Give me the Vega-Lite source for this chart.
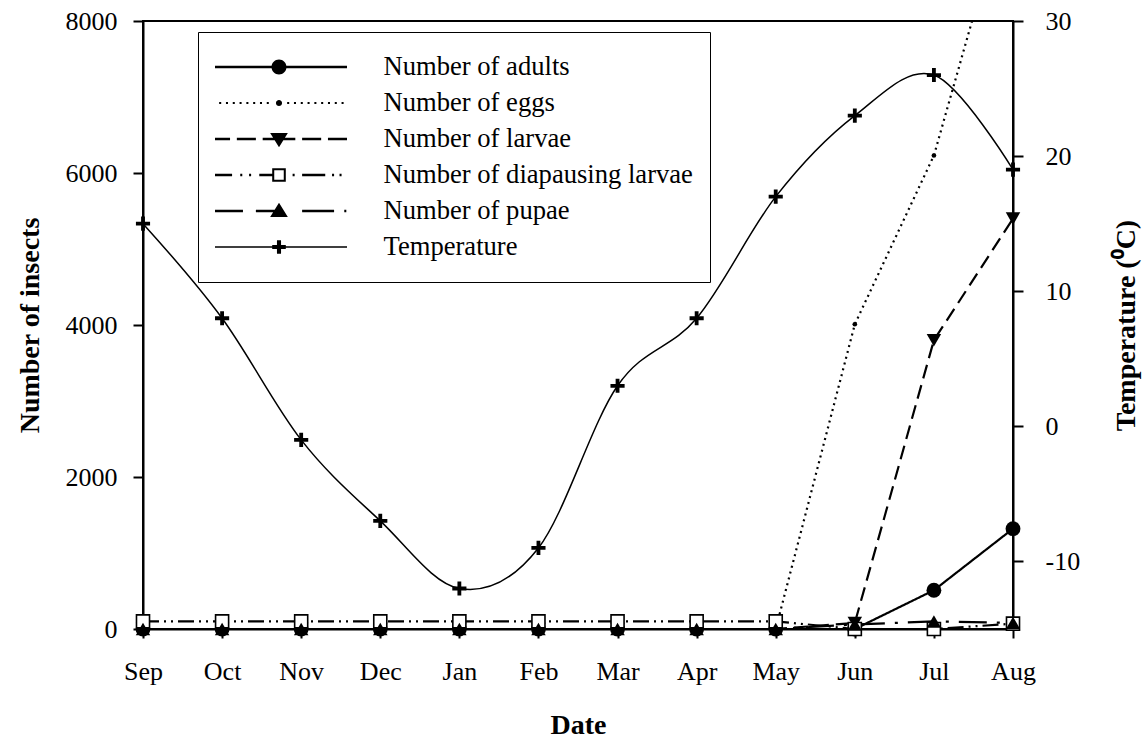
{
  "$schema": "https://vega.github.io/schema/vega-lite/v6.json",
  "width": 870,
  "height": 608,
  "autosize": {"type": "none"},
  "padding": {"left": 143, "top": 21, "right": 133, "bottom": 109},
  "background": "white",
  "config": {
    "font": "Liberation Serif",
    "view": {"stroke": "black", "strokeWidth": 2},
    "axis": {
      "grid": false,
      "domainColor": "black",
      "domainWidth": 2,
      "tickColor": "black",
      "tickWidth": 2,
      "labelColor": "black",
      "titleColor": "black",
      "labelFont": "Liberation Serif",
      "titleFont": "Liberation Serif",
      "labelFontSize": 26,
      "titleFontSize": 28,
      "titleFontWeight": "bold"
    }
  },
  "datasets": {
    "insects": [
      {"month": "Sep", "series": "Number of adults", "count": 0},
      {"month": "Oct", "series": "Number of adults", "count": 0},
      {"month": "Nov", "series": "Number of adults", "count": 0},
      {"month": "Dec", "series": "Number of adults", "count": 0},
      {"month": "Jan", "series": "Number of adults", "count": 0},
      {"month": "Feb", "series": "Number of adults", "count": 0},
      {"month": "Mar", "series": "Number of adults", "count": 0},
      {"month": "Apr", "series": "Number of adults", "count": 0},
      {"month": "May", "series": "Number of adults", "count": 0},
      {"month": "Jun", "series": "Number of adults", "count": 0},
      {"month": "Jul", "series": "Number of adults", "count": 510},
      {"month": "Aug", "series": "Number of adults", "count": 1320},
      {"month": "Sep", "series": "Number of eggs", "count": 0},
      {"month": "Oct", "series": "Number of eggs", "count": 0},
      {"month": "Nov", "series": "Number of eggs", "count": 0},
      {"month": "Dec", "series": "Number of eggs", "count": 0},
      {"month": "Jan", "series": "Number of eggs", "count": 0},
      {"month": "Feb", "series": "Number of eggs", "count": 0},
      {"month": "Mar", "series": "Number of eggs", "count": 0},
      {"month": "Apr", "series": "Number of eggs", "count": 0},
      {"month": "May", "series": "Number of eggs", "count": 0},
      {"month": "Jun", "series": "Number of eggs", "count": 4010},
      {"month": "Jul", "series": "Number of eggs", "count": 6230},
      {"month": "Aug", "series": "Number of eggs", "count": 9900},
      {"month": "Sep", "series": "Number of larvae", "count": 0},
      {"month": "Oct", "series": "Number of larvae", "count": 0},
      {"month": "Nov", "series": "Number of larvae", "count": 0},
      {"month": "Dec", "series": "Number of larvae", "count": 0},
      {"month": "Jan", "series": "Number of larvae", "count": 0},
      {"month": "Feb", "series": "Number of larvae", "count": 0},
      {"month": "Mar", "series": "Number of larvae", "count": 0},
      {"month": "Apr", "series": "Number of larvae", "count": 0},
      {"month": "May", "series": "Number of larvae", "count": 0},
      {"month": "Jun", "series": "Number of larvae", "count": 80},
      {"month": "Jul", "series": "Number of larvae", "count": 3800},
      {"month": "Aug", "series": "Number of larvae", "count": 5400},
      {"month": "Sep", "series": "Number of diapausing larvae", "count": 100},
      {"month": "Oct", "series": "Number of diapausing larvae", "count": 100},
      {"month": "Nov", "series": "Number of diapausing larvae", "count": 100},
      {"month": "Dec", "series": "Number of diapausing larvae", "count": 100},
      {"month": "Jan", "series": "Number of diapausing larvae", "count": 100},
      {"month": "Feb", "series": "Number of diapausing larvae", "count": 100},
      {"month": "Mar", "series": "Number of diapausing larvae", "count": 100},
      {"month": "Apr", "series": "Number of diapausing larvae", "count": 100},
      {"month": "May", "series": "Number of diapausing larvae", "count": 100},
      {"month": "Jun", "series": "Number of diapausing larvae", "count": 0},
      {"month": "Jul", "series": "Number of diapausing larvae", "count": 0},
      {"month": "Aug", "series": "Number of diapausing larvae", "count": 70},
      {"month": "Sep", "series": "Number of pupae", "count": 0},
      {"month": "Oct", "series": "Number of pupae", "count": 0},
      {"month": "Nov", "series": "Number of pupae", "count": 0},
      {"month": "Dec", "series": "Number of pupae", "count": 0},
      {"month": "Jan", "series": "Number of pupae", "count": 0},
      {"month": "Feb", "series": "Number of pupae", "count": 0},
      {"month": "Mar", "series": "Number of pupae", "count": 0},
      {"month": "Apr", "series": "Number of pupae", "count": 0},
      {"month": "May", "series": "Number of pupae", "count": 0},
      {"month": "Jun", "series": "Number of pupae", "count": 60},
      {"month": "Jul", "series": "Number of pupae", "count": 100},
      {"month": "Aug", "series": "Number of pupae", "count": 80}
    ],
    "temperature": [
      {"month": "Sep", "series": "Temperature", "temp": 15},
      {"month": "Oct", "series": "Temperature", "temp": 8},
      {"month": "Nov", "series": "Temperature", "temp": -1},
      {"month": "Dec", "series": "Temperature", "temp": -7},
      {"month": "Jan", "series": "Temperature", "temp": -12},
      {"month": "Feb", "series": "Temperature", "temp": -9},
      {"month": "Mar", "series": "Temperature", "temp": 3},
      {"month": "Apr", "series": "Temperature", "temp": 8},
      {"month": "May", "series": "Temperature", "temp": 17},
      {"month": "Jun", "series": "Temperature", "temp": 23},
      {"month": "Jul", "series": "Temperature", "temp": 26},
      {"month": "Aug", "series": "Temperature", "temp": 19}
    ]
  },
  "encoding": {
    "x": {
      "field": "month",
      "type": "ordinal",
      "sort": ["Sep", "Oct", "Nov", "Dec", "Jan", "Feb", "Mar", "Apr", "May", "Jun", "Jul", "Aug"],
      "scale": {"type": "point", "padding": 0},
      "axis": {
        "title": "Date",
        "labelAngle": 0,
        "tickSize": 9,
        "labelPadding": 20,
        "titleY": 104,
        "titleBaseline": "alphabetic"
      }
    }
  },
  "layer": [
    {
      "data": {"name": "insects"},
      "encoding": {
        "y": {
          "field": "count",
          "type": "quantitative",
          "scale": {"domain": [0, 8000], "nice": false, "zero": false},
          "axis": {
            "orient": "left",
            "values": [0, 2000, 4000, 6000, 8000],
            "format": "d",
            "tickSize": 10,
            "labelPadding": 16,
            "title": "Number of insects",
            "titleAngle": 270,
            "titleAlign": "center",
            "titleBaseline": "bottom",
            "titleX": -99,
            "titleY": 304
          }
        }
      },
      "layer": [
        {
          "mark": {"type": "line", "color": "black", "strokeWidth": 2.2, "clip": true},
          "encoding": {
            "strokeDash": {
              "field": "series",
              "type": "nominal",
              "scale": {
                "domain": ["Number of adults", "Number of eggs", "Number of larvae", "Number of diapausing larvae", "Number of pupae"],
                "range": [[1, 0], [2, 4], [14, 7], [16, 5, 2, 5, 2, 5], [28, 10, 3, 10]]
              },
              "legend": null
            }
          }
        },
        {
          "description": "Key: each entry is a filled outline of a line sample with its marker; the marks themselves are transparent.",
          "mark": {"type": "point", "filled": true, "color": "black", "strokeWidth": 0, "opacity": 0, "size": 18496},
          "encoding": {
            "shape": {
              "field": "series",
              "type": "nominal",
              "scale": {
                "domain": ["Number of adults", "Number of eggs", "Number of larvae", "Number of diapausing larvae", "Number of pupae", "Temperature"],
                "range": [
                  "M-1,-0.018H1V0.018H-1ZM-0.11,0A0.11,0.11 0 1,1 0.11,0A0.11,0.11 0 1,1 -0.11,0Z",
                  "M-0.98,-0.015h0.03v0.03h-0.03ZM-0.88,-0.015h0.03v0.03h-0.03ZM-0.78,-0.015h0.03v0.03h-0.03ZM-0.68,-0.015h0.03v0.03h-0.03ZM-0.58,-0.015h0.03v0.03h-0.03ZM-0.48,-0.015h0.03v0.03h-0.03ZM-0.38,-0.015h0.03v0.03h-0.03ZM-0.28,-0.015h0.03v0.03h-0.03ZM-0.18,-0.015h0.03v0.03h-0.03ZM-0.045,0A0.045,0.045 0 1,1 0.045,0A0.045,0.045 0 1,1 -0.045,0ZM0.12,-0.015h0.03v0.03h-0.03ZM0.22,-0.015h0.03v0.03h-0.03ZM0.32,-0.015h0.03v0.03h-0.03ZM0.42,-0.015h0.03v0.03h-0.03ZM0.52,-0.015h0.03v0.03h-0.03ZM0.62,-0.015h0.03v0.03h-0.03ZM0.72,-0.015h0.03v0.03h-0.03ZM0.82,-0.015h0.03v0.03h-0.03ZM0.92,-0.015h0.03v0.03h-0.03Z",
                  "M-1,-0.018H-0.72V0.018H-1ZM-0.62,-0.018H-0.34V0.018H-0.62ZM-0.24,-0.018H0.24V0.018H-0.24ZM0.34,-0.018H0.62V0.018H0.34ZM0.72,-0.018H1V0.018H0.72ZM-0.13,-0.09L0.13,-0.09L0,0.12Z",
                  "M-1,-0.018H-0.69V0.018H-1ZM-0.57,-0.018h0.03v0.036h-0.03ZM-0.44,-0.018h0.03v0.036h-0.03ZM-0.29,-0.018H-0.1V0.018H-0.29ZM-0.1,-0.1H0.1V0.1H-0.1ZM-0.07,-0.07V0.07H0.07V-0.07ZM0.2,-0.018h0.03v0.036h-0.03ZM0.34,-0.018H0.68V0.018H0.34ZM0.78,-0.018h0.03v0.036h-0.03ZM0.89,-0.018h0.03v0.036h-0.03Z",
                  "M-1,-0.018H-0.53V0.018H-1ZM-0.34,-0.018H0V0.018H-0.34ZM0.34,-0.018H0.81V0.018H0.34ZM0.96,-0.018h0.03v0.036h-0.03ZM-0.13,0.09L0,-0.12L0.13,0.09Z",
                  "M-1,-0.011H1V0.011H-1ZM-0.1,-0.03H0.1V0.03H-0.1ZM-0.03,-0.1H0.03V0.1H-0.03Z"
                ]
              },
              "legend": {
                "title": null,
                "orient": "none",
                "legendX": 55,
                "legendY": 11,
                "symbolSize": 18496,
                "clipHeight": 36,
                "rowPadding": 0,
                "padding": 17,
                "symbolOffset": -4,
                "labelOffset": 36.5,
                "labelFont": "Liberation Serif",
                "labelFontSize": 26.6,
                "labelColor": "black",
                "labelLimit": 600,
                "strokeColor": "black",
                "fillColor": "white",
                "cornerRadius": 0,
                "symbolOpacity": 1,
                "symbolStrokeWidth": 0,
                "symbolFillColor": "black",
                "encode": {
                  "legend": {
                    "stroke": {"value": "black"},
                    "strokeWidth": {"value": 2},
                    "fill": {"value": "white"}
                  },
                  "symbols": {
                    "fill": {"value": "black"},
                    "opacity": {"value": 1}
                  }
                }
              }
            }
          }
        },
        {
          "transform": [{"filter": "datum.series === 'Number of adults'"}],
          "mark": {"type": "point", "shape": "circle", "filled": true, "color": "black", "size": 220, "opacity": 1}
        },
        {
          "transform": [{"filter": "datum.series === 'Number of eggs' && datum.count <= 8000"}],
          "mark": {"type": "point", "shape": "circle", "filled": true, "color": "black", "size": 22, "opacity": 1}
        },
        {
          "transform": [{"filter": "datum.series === 'Number of larvae'"}],
          "mark": {"type": "point", "shape": "triangle-down", "filled": true, "color": "black", "size": 210, "opacity": 1}
        },
        {
          "transform": [{"filter": "datum.series === 'Number of diapausing larvae'"}],
          "mark": {"type": "point", "shape": "square", "filled": true, "fill": "white", "stroke": "black", "strokeWidth": 1.6, "size": 170, "opacity": 1}
        },
        {
          "transform": [{"filter": "datum.series === 'Number of pupae'"}],
          "mark": {"type": "point", "shape": "triangle-up", "filled": true, "color": "black", "size": 210, "opacity": 1}
        }
      ]
    },
    {
      "data": {"name": "temperature"},
      "encoding": {
        "y": {
          "field": "temp",
          "type": "quantitative",
          "scale": {"domain": [-15, 30], "nice": false, "zero": false},
          "axis": {
            "orient": "right",
            "values": [-10, 0, 10, 20, 30],
            "labelExpr": "'' + datum.value",
            "tickSize": 10,
            "labelPadding": 22,
            "labelAlign": "left",
            "title": "Temperature (⁰C)",
            "titleAngle": 270,
            "titleAlign": "center",
            "titleBaseline": "top",
            "titleX": 99,
            "titleY": 304
          }
        }
      },
      "layer": [
        {
          "mark": {"type": "line", "interpolate": "cardinal", "color": "black", "strokeWidth": 1.5}
        },
        {
          "mark": {"type": "point", "shape": "M-1,-0.27H1V0.27H-1ZM-0.27,-1H0.27V1H-0.27Z", "filled": true, "color": "black", "size": 200, "opacity": 1}
        }
      ]
    }
  ],
  "resolve": {"scale": {"y": "independent"}}
}
